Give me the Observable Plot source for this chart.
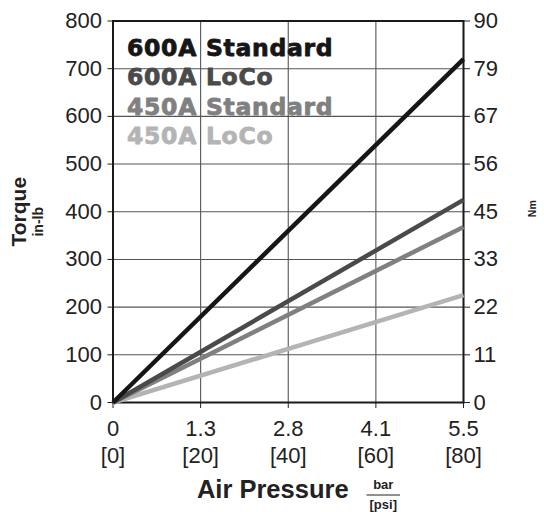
<!DOCTYPE html>
<html>
<head>
<meta charset="utf-8">
<script src="https://cdn.jsdelivr.net/npm/d3@7"></script>
<script src="https://cdn.jsdelivr.net/npm/@observablehq/plot@0.6"></script>
<style>
  html, body { margin: 0; padding: 0; background: #fff; }
</style>
</head>
<body>
<div id="chart"></div>
<script>
// ---- data ----
const series = ["450A LoCo", "450A Standard", "600A LoCo", "600A Standard"];
const pressurePsi = [0, 80];
const torque450LoCo = [0, 225];
const torque450Std = [0, 368];
const torque600LoCo = [0, 425];
const torque600Std = [0, 720];
const legendLabels = ["600A Standard", "600A LoCo", "450A Standard", "450A LoCo"];
const psiTicks = [0, 20, 40, 60, 80];
const barLabels = ["0", "1.3", "2.8", "4.1", "5.5"];
const inlbTicks = [0, 100, 200, 300, 400, 500, 600, 700, 800];
const nmLabels = ["0", "11", "22", "33", "45", "56", "67", "79", "90"];

const colors = {
  "600A Standard": "#161616",
  "600A LoCo": "#4a4a4a",
  "450A Standard": "#808080",
  "450A LoCo": "#b4b4b4"
};

const valuesBySeries = {
  "450A LoCo": torque450LoCo,
  "450A Standard": torque450Std,
  "600A LoCo": torque600LoCo,
  "600A Standard": torque600Std
};

const rows = series.flatMap(s => pressurePsi.map((p, i) => ({series: s, psi: p, torque: valuesBySeries[s][i]})));

const font = "'Liberation Sans', Arial, Helvetica, sans-serif";
const heavy = "'DejaVu Sans', 'Liberation Sans', sans-serif";

const chart = Plot.plot({
  width: 544,
  height: 512,
  marginLeft: 112.5,
  marginRight: 81,
  marginTop: 20.5,
  marginBottom: 110,
  style: {fontFamily: font, fontSize: "22px", color: "#222", background: "#fff"},
  x: {domain: [0, 80]},
  y: {domain: [0, 800]},
  color: {domain: series, range: series.map(s => colors[s])},
  marks: [
    Plot.gridX(psiTicks, {stroke: "#555", strokeOpacity: 1, strokeWidth: 1.1}),
    Plot.gridY(inlbTicks, {stroke: "#555", strokeOpacity: 1, strokeWidth: 1.1}),
    Plot.axisX({ticks: psiTicks, tickSize: 6, tickPadding: 9, lineHeight: 1.2, fontSize: 22,
      tickFormat: d => `${barLabels[psiTicks.indexOf(d)]}\n[${d}]`, label: null, stroke: "#222"}),
    Plot.axisY({ticks: inlbTicks, anchor: "left", tickSize: 5, tickPadding: 6, fontSize: 22,
      tickFormat: d => String(d), label: null}),
    Plot.axisY({ticks: inlbTicks, anchor: "right", tickSize: 6, tickPadding: 4, fontSize: 22,
      tickFormat: d => nmLabels[inlbTicks.indexOf(d)], label: null}),
    Plot.frame({stroke: "#1a1a1a", strokeWidth: 2}),
    Plot.line(rows, {x: "psi", y: "torque", z: "series", stroke: "series", strokeWidth: 4.5, strokeLinecap: "butt"}),
    ...legendLabels.map((t, i) => Plot.text([t], {
      frameAnchor: "top-left", text: d => d, textAnchor: "start", lineAnchor: "bottom",
      dx: 14, dy: 34.5 + i * 29.6, fontSize: 23.5, fontWeight: "bold", fontFamily: heavy,
      fill: colors[t], stroke: colors[t], strokeWidth: 0.8, className: "legend-label"
    })),
    Plot.text(["Torque"], {frameAnchor: "left", text: d => d, rotate: -90, textAnchor: "middle", lineAnchor: "bottom",
      dx: -87.5, dy: 0, fontSize: 21, fontWeight: "bold", fill: "#222"}),
    Plot.text(["in-lb"], {frameAnchor: "left", text: d => d, rotate: -90, textAnchor: "middle", lineAnchor: "bottom",
      dx: -70.5, dy: 10, fontSize: 14, fontWeight: "bold", fill: "#222"}),
    Plot.text(["Nm"], {frameAnchor: "right", text: d => d, rotate: -90, textAnchor: "middle", lineAnchor: "bottom",
      dx: 72, dy: -3, fontSize: 10.5, fontWeight: "bold", fill: "#222"}),
    Plot.text(["Air Pressure"], {frameAnchor: "bottom", text: d => d, textAnchor: "middle", lineAnchor: "bottom",
      dx: -15.5, dy: 95, fontSize: 25.5, fontWeight: "bold", fill: "#222"}),
    Plot.text(["bar"], {frameAnchor: "bottom", text: d => d, textAnchor: "middle", lineAnchor: "bottom",
      dx: 95, dy: 86, fontSize: 13, fontWeight: "bold", fill: "#222", className: "frac-top"}),
    Plot.text(["[psi]"], {frameAnchor: "bottom", text: d => d, textAnchor: "middle", lineAnchor: "bottom",
      dx: 95, dy: 106, fontSize: 13, fontWeight: "bold", fill: "#222", className: "frac-bot"})
  ]
});

document.getElementById("chart").appendChild(chart);

// wider, heavier legend lettering
d3.select(chart).selectAll(".legend-label text").attr("letter-spacing", "0.7px");

// fraction bar between "bar" and "[psi]", measured from the rendered texts
const svg = d3.select(chart);
const topT = chart.querySelector(".frac-top text");
const botT = chart.querySelector(".frac-bot text");
if (topT && botT) {
  const ra = topT.getBoundingClientRect(), rb = botT.getBoundingClientRect();
  const sr = chart.getBoundingClientRect();
  const x1 = Math.min(ra.left, rb.left) - sr.left - 3;
  const x2 = Math.max(ra.right, rb.right) - sr.left + 3;
  const yMid = ((ra.bottom - sr.top) + (rb.top - sr.top)) / 2 + 1;
  svg.append("line").attr("x1", x1).attr("x2", x2).attr("y1", yMid).attr("y2", yMid)
    .attr("stroke", "#222").attr("stroke-width", 1.2);
}
</script>
</body>
</html>
